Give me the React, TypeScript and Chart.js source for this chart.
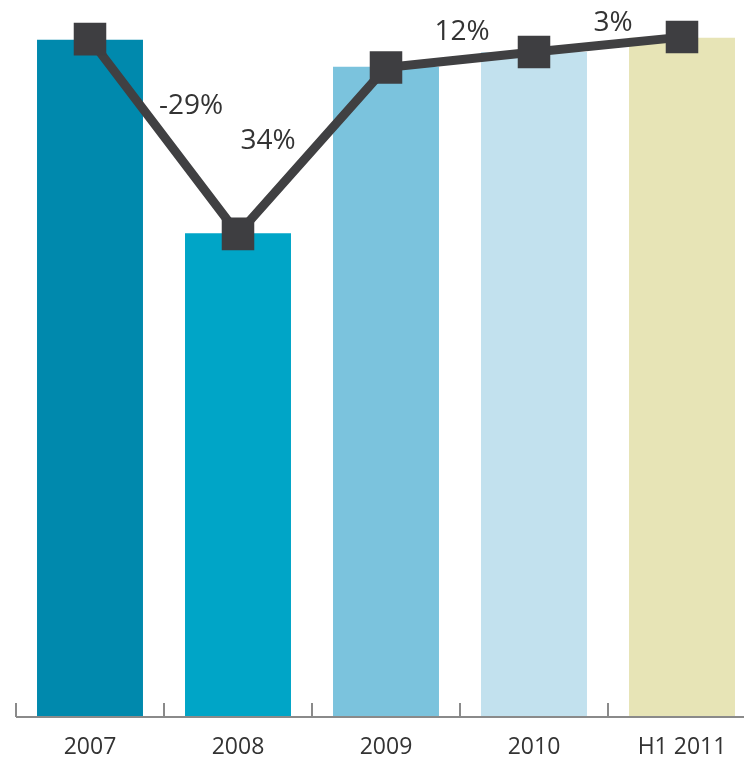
import React, { useEffect, useRef } from "react";
import { Chart, registerables } from "chart.js";

Chart.register(...registerables);

const categories = ["2007", "2008", "2009", "2010", "H1 2011"];
const barValues = [100, 71.4, 96.0, 98.2, 100.3];
const lineValues = [100.1, 71.3, 95.9, 98.2, 100.4];
const changeLabels = ["-29%", "34%", "12%", "3%"];
const barColors = ["#0089ad", "#00a5c7", "#7bc3dd", "#c2e1ee", "#e7e4b6"];
// pixel offsets of each change label from its segment midpoint (styling)
const labelOffsets: [number, number][] = [
  [27, -30],
  [-44, -10],
  [2, -28],
  [5, -22],
];

const overlayPlugin = {
  id: "overlay",
  afterDraw(chart: any) {
    const ctx = chart.ctx;
    const x = chart.scales.x;
    const area = chart.chartArea;
    const yAxis = area.bottom + 1;
    ctx.save();
    ctx.strokeStyle = "#8a8a8a";
    ctx.lineWidth = 2;
    ctx.beginPath();
    ctx.moveTo(x.getPixelForValue(-0.5), yAxis);
    ctx.lineTo(chart.width, yAxis);
    ctx.stroke();
    for (let i = 0; i <= categories.length; i++) {
      const px = Math.round(x.getPixelForValue(i - 0.5));
      ctx.beginPath();
      ctx.moveTo(px, yAxis);
      ctx.lineTo(px, yAxis - 14);
      ctx.stroke();
    }
    const meta = chart.getDatasetMeta(1);
    ctx.fillStyle = "#333333";
    ctx.font = '28px "Open Sans", sans-serif';
    ctx.textAlign = "center";
    ctx.textBaseline = "middle";
    for (let i = 0; i < changeLabels.length; i++) {
      const a = meta.data[i];
      const b = meta.data[i + 1];
      const mx = (a.x + b.x) / 2 + labelOffsets[i][0];
      const my = (a.y + b.y) / 2 + labelOffsets[i][1];
      ctx.fillText(changeLabels[i], mx, my);
    }
    ctx.restore();
  },
};

export default function App() {
  const ref = useRef<HTMLCanvasElement | null>(null);
  useEffect(() => {
    if (!ref.current) return;
    const chart = new Chart(ref.current, {
      type: "bar",
      data: {
        labels: categories,
        datasets: [
          {
            type: "bar",
            data: barValues,
            backgroundColor: barColors,
            borderWidth: 0,
            barPercentage: 0.716,
            categoryPercentage: 1,
            order: 1,
          } as any,
          {
            type: "line",
            data: lineValues,
            borderColor: "#404042",
            borderWidth: 9,
            pointStyle: "rect",
            pointRadius: 23,
            pointHoverRadius: 23,
            pointBorderWidth: 0,
            pointBackgroundColor: "#3e3e41",
            pointBorderColor: "#3e3e41",
            tension: 0,
            order: 0,
          } as any,
        ],
      },
      options: {
        responsive: false,
        animation: false,
        devicePixelRatio: 1,
        layout: { autoPadding: false, padding: { left: 16, right: 4, top: 6, bottom: 0 } },
        plugins: { legend: { display: false }, tooltip: { enabled: false } },
        scales: {
          x: {
            offset: true,
            grid: { display: false, drawTicks: false },
            border: { display: false },
            afterFit: (scale: any) => {
              scale.paddingLeft = 0;
              scale.paddingRight = 0;
              scale.height = 41;
            },
            ticks: {
              color: "#333333",
              font: { family: '"Open Sans", sans-serif', size: 23 },
              padding: 18,
              maxRotation: 0,
              autoSkip: false,
            },
          },
          y: { display: false, min: 0, max: 105 },
        },
      },
      plugins: [overlayPlugin],
    });
    return () => chart.destroy();
  }, []);
  return (
    <div style={{ position: "fixed", left: 0, top: 0, width: 744, height: 757, overflow: "hidden", background: "#fff" }}>
      <canvas ref={ref} width={760} height={757} style={{ display: "block", width: 760, height: 757 }} />
    </div>
  );
}
